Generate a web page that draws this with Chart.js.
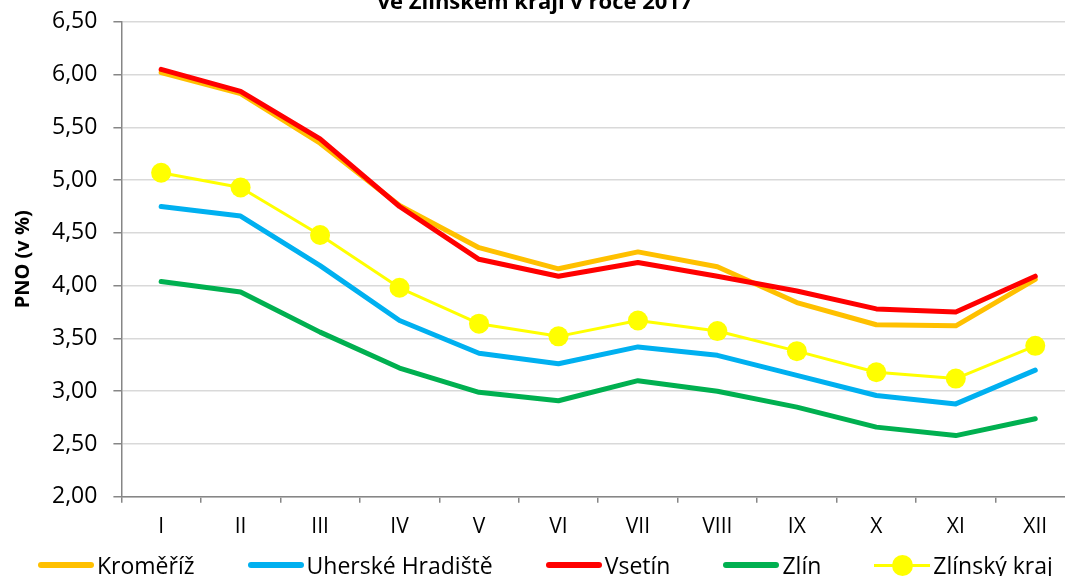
<!DOCTYPE html>
<html lang="cs">
<head>
  <meta charset="UTF-8">
  <title>PNO ve Zlínském kraji</title>
  <script src="https://cdn.jsdelivr.net/npm/chart.js@4.4.0/dist/chart.umd.min.js"></script>
  <style>
    body { margin: 0; background: #fff; }
    #wrap { width: 1065px; height: 576px; overflow: hidden; position: relative; }
    #chart { position: absolute; left: 0; top: -8px; }
    #title {
      position: absolute; left: 0; width: 1070px; top: -13px; text-align: center;
      font-family: 'Open Sans', sans-serif; font-weight: bold; font-size: 22px; line-height: 26px;
      color: #000;
    }
    #legend {
      position: absolute; left: 38px; top: 551px; height: 28px;
      display: flex; align-items: center; gap: 53px;
      font-family: 'Open Sans', sans-serif; font-size: 23px; color: #000;
      white-space: nowrap;
    }
    .item { display: flex; align-items: center; }
    .sample { position: relative; width: 56px; height: 6px; border-radius: 3px; margin-right: 3px; }
    .sample.thin { height: 3px; border-radius: 0; }
    .sample .dot {
      position: absolute; left: 18px; top: -9px; width: 21px; height: 21px; border-radius: 50%;
    }
  </style>
</head>
<body>
  <div id="wrap">
    <canvas id="chart" width="1085" height="584"></canvas>
    <div id="title">ve Zlínském kraji v roce 2017</div>
    <div id="legend"></div>
  </div>
  <script>
    // měsíce
    const months = ['I', 'II', 'III', 'IV', 'V', 'VI', 'VII', 'VIII', 'IX', 'X', 'XI', 'XII'];

    // podíl nezaměstnaných osob (v %)
    const kromeriz = [6.02, 5.82, 5.35, 4.76, 4.36, 4.16, 4.32, 4.18, 3.84, 3.63, 3.62, 4.06];
    const uhHradiste = [4.75, 4.66, 4.19, 3.67, 3.36, 3.26, 3.42, 3.34, 3.15, 2.96, 2.88, 3.20];
    const vsetin = [6.05, 5.84, 5.39, 4.75, 4.25, 4.09, 4.22, 4.09, 3.95, 3.78, 3.75, 4.09];
    const zlin = [4.04, 3.94, 3.56, 3.22, 2.99, 2.91, 3.10, 3.00, 2.85, 2.66, 2.58, 2.74];
    const zlinskyKraj = [5.07, 4.93, 4.48, 3.98, 3.64, 3.52, 3.67, 3.57, 3.38, 3.18, 3.12, 3.43];

    const yTicks = [2, 2.5, 3, 3.5, 4, 4.5, 5, 5.5, 6, 6.5];

    const fontMain = 'Open Sans';

    function line(label, data, color, width, order) {
      return {
        label: label,
        data: data,
        borderColor: color,
        backgroundColor: color,
        borderWidth: width,
        pointRadius: 0,
        tension: 0,
        borderCapStyle: 'round',
        borderJoinStyle: 'round',
        order: order
      };
    }

    const datasets = [
      line('Kroměříž', kromeriz, '#FFC000', 5, 5),
      line('Uherské Hradiště', uhHradiste, '#00B0F0', 5, 4),
      line('Vsetín', vsetin, '#FF0000', 5, 3),
      line('Zlín', zlin, '#00B050', 5, 2),
      Object.assign(line('Zlínský kraj', zlinskyKraj, '#FFFF00', 3, 1), {
        pointRadius: 10,
        pointHoverRadius: 10,
        pointBackgroundColor: '#FFFF00',
        pointBorderWidth: 0
      })
    ];

    const chart = new Chart(document.getElementById('chart'), {
      type: 'line',
      data: { labels: months, datasets: datasets },
      options: {
        responsive: false,
        animation: false,
        layout: { padding: { top: 0, right: 9, bottom: 24, left: 6 } },
        plugins: {
          legend: { display: false },
          tooltip: { enabled: false }
        },
        scales: {
          x: {
            offset: true,
            grid: {
              offset: true,
              drawOnChartArea: false,
              color: '#868686',
              tickLength: 6,
              lineWidth: 1.5
            },
            border: { color: '#868686', width: 1.5 },
            ticks: {
              color: '#000',
              font: { family: fontMain, size: 21 },
              padding: 12,
              maxRotation: 0
            }
          },
          y: {
            min: 2,
            max: 6.5,
            afterBuildTicks(scale) {
              scale.ticks = yTicks.map(v => ({ value: v }));
            },
            grid: {
              color: '#d9d9d9',
              lineWidth: 1.5,
              tickColor: '#868686',
              tickLength: 8
            },
            border: { color: '#868686', width: 1.5 },
            ticks: {
              color: '#000',
              font: { family: fontMain, size: 23 },
              padding: 16,
              callback: v => v.toFixed(2).replace('.', ',')
            },
            title: {
              display: true,
              text: 'PNO (v %)',
              color: '#000',
              font: { family: fontMain, size: 20, weight: 'bold' },
              padding: { top: 5, bottom: 1 }
            }
          }
        }
      }
    });

    // legenda pod grafem (HTML)
    const legend = document.getElementById('legend');
    chart.data.datasets.forEach(ds => {
      const item = document.createElement('div');
      item.className = 'item';
      const sample = document.createElement('span');
      sample.className = 'sample' + (ds.pointRadius ? ' thin' : '');
      sample.style.background = ds.borderColor;
      if (ds.pointRadius) {
        const dot = document.createElement('span');
        dot.className = 'dot';
        dot.style.background = ds.pointBackgroundColor;
        sample.appendChild(dot);
      }
      const text = document.createElement('span');
      text.textContent = ds.label;
      item.appendChild(sample);
      item.appendChild(text);
      legend.appendChild(item);
    });
  </script>
</body>
</html>
